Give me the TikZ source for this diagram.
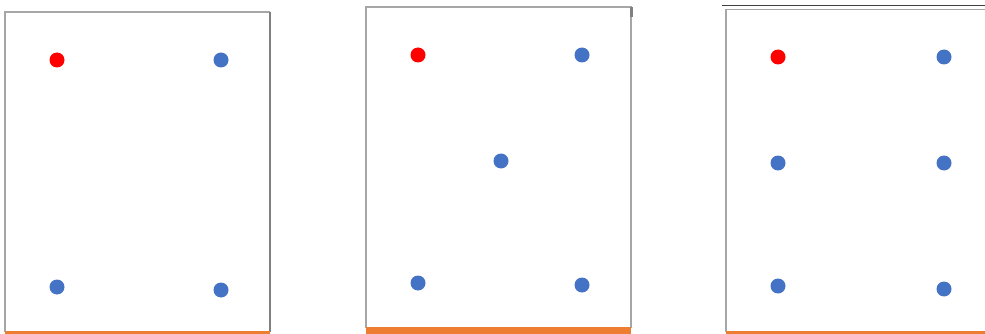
\documentclass[tikz,border=0pt]{standalone}
\definecolor{dotblue}{HTML}{4472C4}
\definecolor{dotred}{HTML}{FF0000}
\definecolor{barorange}{HTML}{ED7D31}
\definecolor{frame}{HTML}{A6A6A6}
\definecolor{frameDark}{HTML}{808080}
\definecolor{topline}{HTML}{404040}
\tikzset{
  dot/.style={circle,inner sep=0pt,minimum size=15pt,draw=none},
  bluedot/.style={dot,fill=dotblue},
  reddot/.style={dot,fill=dotred},
  panel/.style={draw=frame,line width=1.5pt},
}
\begin{document}
\begin{tikzpicture}[x=1pt,y=-1pt]
\useasboundingbox[fill=white] (0,0) rectangle (985,334);
% panel 1
\draw[panel] (5,332) -- (5,12) -- (270,12);
\draw[draw=frameDark,line width=1.5pt] (270,12) -- (270,332);
\fill[barorange] (5,331) rectangle (270,334);
\node[reddot] (a1) at (57,60) {};
\node[bluedot] (a2) at (221,60) {};
\node[bluedot] (a3) at (57,287) {};
\node[bluedot] (a4) at (221,290) {};
% panel 2
\draw[panel] (366,328) -- (366,7) -- (631,7) -- (631,328);
\fill[frameDark] (630,7) rectangle (632.5,17);
\fill[barorange] (366,327) rectangle (631,334);
\node[reddot] (b1) at (418,55) {};
\node[bluedot] (b2) at (582,55) {};
\node[bluedot] (b3) at (501,161) {};
\node[bluedot] (b4) at (418,283) {};
\node[bluedot] (b5) at (582,285) {};
% panel 3
\draw[topline,line width=1pt] (722,6) -- (985,6);
\draw[panel] (726,332) -- (726,9.5) -- (985,9.5);
\fill[barorange] (726,331) rectangle (985,334);
\node[reddot] (c1) at (778,57) {};
\node[bluedot] (c2) at (944,57) {};
\node[bluedot] (c3) at (778,163) {};
\node[bluedot] (c4) at (944,163) {};
\node[bluedot] (c5) at (778,286) {};
\node[bluedot] (c6) at (944,289) {};
\end{tikzpicture}
\end{document}
